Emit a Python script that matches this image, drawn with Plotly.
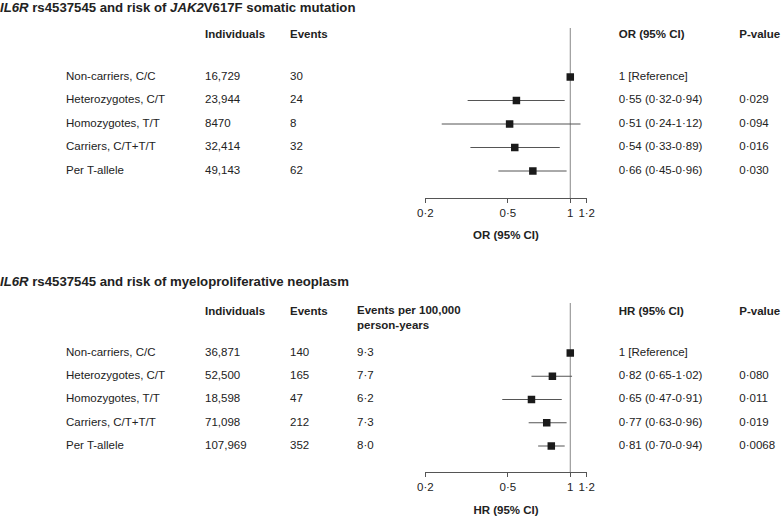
import math
import plotly.graph_objects as go

W, H = 781, 520

# ---- data ----
groups = ["Non-carriers, C/C", "Heterozygotes, C/T", "Homozygotes, T/T",
          "Carriers, C/T+T/T", "Per T-allele"]

jak_individuals = [16729, 23944, 8470, 32414, 49143]
jak_events = [30, 24, 8, 32, 62]
jak_or = [1.0, 0.55, 0.51, 0.54, 0.66]
jak_lo = [None, 0.32, 0.24, 0.33, 0.45]
jak_hi = [None, 0.94, 1.12, 0.89, 0.96]
jak_p = ["", "0·029", "0·094", "0·016", "0·030"]

mpn_individuals = [36871, 52500, 18598, 71098, 107969]
mpn_events = [140, 165, 47, 212, 352]
mpn_rate = [9.3, 7.7, 6.2, 7.3, 8.0]
mpn_hr = [1.0, 0.82, 0.65, 0.77, 0.81]
mpn_lo = [None, 0.65, 0.47, 0.63, 0.70]
mpn_hi = [None, 1.02, 0.91, 0.96, 0.94]
mpn_p = ["", "0·080", "0·011", "0·019", "0·0068"]

tick_vals = [0.2, 0.5, 1, 1.2]
tick_text = ["0·2", "0·5", "1", "1·2"]

TXT = "#222222"
FONT = "Liberation Sans, Arial, sans-serif"

# column x positions (px) of the table
COL_LABEL, COL_N, COL_EV, COL_RATE, COL_CI, COL_P = 66, 205, 290, 357, 618.7, 739.3


def dot(v, nd=2):
    return f"{v:.{nd}f}".replace(".", "·")


def count(n):
    return f"{n:,}" if n >= 10000 else str(n)


def py(y):
    return 1 - y / H


fig = go.Figure()

# full-page pixel axis for the table text
fig.update_layout(
    xaxis3=dict(domain=[0, 1], range=[0, W], visible=False, fixedrange=True),
    yaxis3=dict(domain=[0, 1], range=[H, 0], visible=False, fixedrange=True,
                anchor="x3"),
)


def text(xs, ys, labels, size=11.5, pos="middle right"):
    fig.add_trace(go.Scatter(
        x=xs, y=ys, text=labels, mode="text", textposition=pos,
        textfont=dict(size=size, color=TXT, family=FONT),
        xaxis="x3", yaxis="y3", cliponaxis=False,
        showlegend=False, hoverinfo="skip"))


def panel(idx, est, lo, hi, individuals, events, p, label, title, rate,
          top, bottom, row0, step, head_y, title_y, axis_title_y):
    xa = "x" if idx == 1 else "x2"
    ya = "y" if idx == 1 else "y2"
    plus = [0 if h is None else h - e for e, h in zip(est, hi)]
    minus = [0 if l is None else e - l for e, l in zip(est, lo)]
    rows = list(range(len(groups)))
    fig.add_trace(go.Scatter(
        x=est, y=rows, xaxis=xa, yaxis=ya, mode="markers",
        marker=dict(symbol="square", size=7.5, color="#1a1a1a"),
        error_x=dict(type="data", array=plus, arrayminus=minus,
                     width=0, thickness=1, color="#555555"),
        showlegend=False, hoverinfo="skip"))
    fig.add_shape(type="line", xref=xa, yref=f"{ya} domain", x0=1, x1=1,
                  y0=0, y1=1, line=dict(color="#888888", width=1), layer="below")

    ax_key = "xaxis" if idx == 1 else "xaxis2"
    ay_key = "yaxis" if idx == 1 else "yaxis2"
    fig.update_layout(**{
        ax_key: dict(type="log", range=[math.log10(0.2), math.log10(1.2)],
                     domain=[425.3 / W, 586.7 / W], anchor=ya,
                     showline=True, linecolor="#555555", linewidth=1,
                     ticks="outside", ticklen=4, tickcolor="#555555",
                     tickvals=tick_vals, ticktext=tick_text,
                     tickfont=dict(size=11.5, color=TXT, family=FONT),
                     showgrid=False, zeroline=False, fixedrange=True,
                     automargin=False),
        ay_key: dict(domain=[py(bottom), py(top)],
                     range=[(bottom - row0) / step, (top - row0) / step],
                     visible=False, anchor=xa, fixedrange=True),
    })

    # title and header row
    text([0], [title_y], [title], size=13.2)
    text([COL_N, COL_EV, COL_CI, COL_P], [head_y] * 4,
         ["<b>Individuals</b>", "<b>Events</b>",
          f"<b>{label} (95% CI)</b>", "<b>P-value</b>"])
    if rate is not None:
        text([COL_RATE], [head_y + 7], ["<b>Events per 100,000<br>person-years</b>"])

    # table rows
    ys = [row0 + i * step for i in rows]
    cis = ["1 [Reference]" if lo[i] is None
           else f"{dot(est[i])} ({dot(lo[i])}-{dot(hi[i])})" for i in rows]
    text([COL_LABEL] * 5, ys, groups)
    text([COL_N] * 5, ys, [count(v) for v in individuals])
    text([COL_EV] * 5, ys, [str(v) for v in events])
    if rate is not None:
        text([COL_RATE] * 5, ys, [dot(v, 1) for v in rate])
    text([COL_CI] * 5, ys, cis)
    text([COL_P] * 5, ys, p)

    text([506], [axis_title_y], [f"<b>{label} (95% CI)</b>"], pos="middle center")


panel(1, jak_or, jak_lo, jak_hi, jak_individuals, jak_events, jak_p, "OR",
      "<b><i>IL6R</i> rs4537545 and risk of <i>JAK2</i>V617F somatic mutation</b>",
      None, top=28, bottom=198, row0=77, step=23.5, head_y=35, title_y=8.5,
      axis_title_y=236)
panel(2, mpn_hr, mpn_lo, mpn_hi, mpn_individuals, mpn_events, mpn_p, "HR",
      "<b><i>IL6R</i> rs4537545 and risk of myeloproliferative neoplasm</b>",
      mpn_rate, top=303, bottom=472, row0=353, step=23.25, head_y=312,
      title_y=283, axis_title_y=511)

fig.update_layout(width=W, height=H,
                  margin=dict(l=0, r=0, t=0, b=0, pad=0, autoexpand=False),
                  paper_bgcolor="white", plot_bgcolor="rgba(0,0,0,0)",
                  font=dict(family=FONT, color=TXT))

# page body has a default 8px margin; drop it so the figure fills the window
fig.write_html("out.html",
               config={"displayModeBar": False},
               post_script="document.body.style.margin='0';"
                           "document.body.style.overflow='hidden';")
